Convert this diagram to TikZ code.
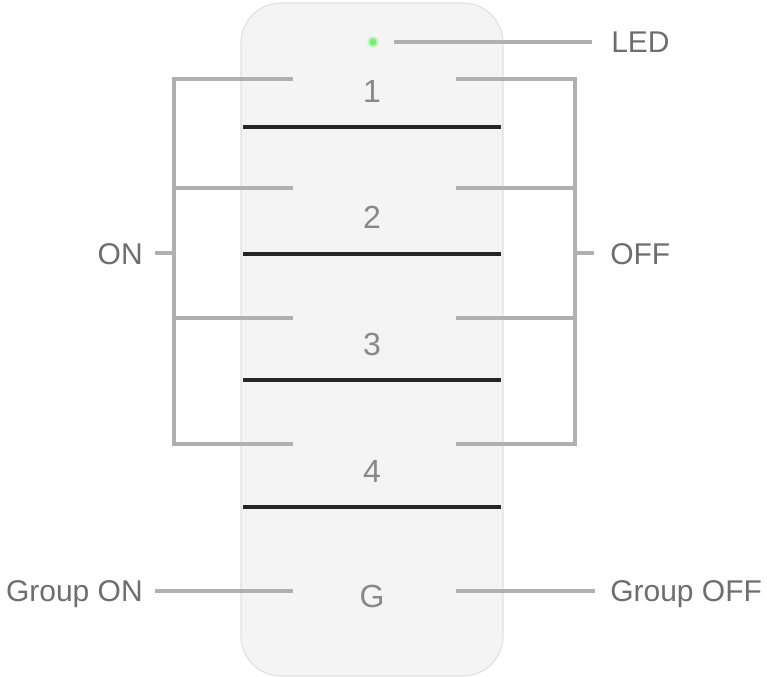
\documentclass[tikz,border=0pt]{standalone}
\usepackage{fontspec}
\setmainfont{Liberation Sans}
\usetikzlibrary{calc}

\definecolor{bodygray}{HTML}{F4F4F4}
\definecolor{edgegray}{HTML}{E0E0E0}
\definecolor{leadgray}{HTML}{B0B0B0}
\definecolor{labelgray}{HTML}{6E6E6E}
\definecolor{keygray}{HTML}{888888}
\definecolor{ledgreen}{HTML}{78EE78}

\begin{document}
\begin{tikzpicture}[x=0.75pt,y=-0.75pt,
    lbl/.style={text=labelgray,font=\fontsize{22.5}{27}\selectfont,inner sep=0pt,text depth=0pt},
    keylbl/.style={text=keygray,font=\fontsize{24}{28}\selectfont,inner sep=0pt},
    lead/.style={leadgray,line width=2.3pt},
    seam/.style={black!85,line width=2.4pt}]
  \useasboundingbox (0,0) rectangle (767,677);
  %\draw[very thin,lightgray] (0,0) grid[step=50] (767,677);

  % remote body
  \draw[edgegray,line width=0.8pt,fill=bodygray,rounded corners=30pt] (241,3) rectangle (503,676);
  \foreach \y in {127,254,380,507}
    \draw[seam] (243,\y) -- (501,\y);

  % led
  \node[circle,fill=ledgreen!50,minimum size=8.5pt,inner sep=0pt] (led) at (373,42) {};
  \fill[ledgreen] (led) circle (2.6pt);

  % keys
  \foreach \n/\t/\yb in {k1/1/103,k2/2/229,k3/3/355,k4/4/482,kg/G/607}
    \node[keylbl,anchor=base] (\n) at (372,\yb) {\t};

  % labels
  \node[lbl,anchor=base west] (ledlbl) at (611,53) {LED};
  \node[lbl,anchor=base east] (onlbl) at (143,264) {ON};
  \node[lbl,anchor=base west] (offlbl) at (610,264) {OFF};
  \node[lbl,anchor=base east] (gonlbl) at (143,601) {Group ON};
  \node[lbl,anchor=base west] (gofflbl) at (610,601) {Group OFF};

  % bracket ends
  \foreach \i/\y in {1/79,2/188,3/318,4/444}{
    \coordinate (on\i) at (293,\y);
    \coordinate (onb\i) at (174,\y);
    \coordinate (off\i) at (456,\y);
    \coordinate (offb\i) at (575,\y);
  }
  \coordinate (onm) at (174,253);
  \coordinate (offm) at (575,253);
  \coordinate (gl) at (293,591);
  \coordinate (gr) at (456,591);

  % leads
  \draw[lead,shorten <=11pt,shorten >=14pt] (led) -- (led -| ledlbl.west);
  \draw[lead] (on1) -- (onb1) -- (onb4) -- (on4);
  \draw[lead] (on2) -- (onb2);
  \draw[lead] (on3) -- (onb3);
  \draw[lead] (off1) -- (offb1) -- (offb4) -- (off4);
  \draw[lead] (off2) -- (offb2);
  \draw[lead] (off3) -- (offb3);
  \draw[lead,shorten >=9pt] (onm) -- (onm -| onlbl.east);
  \draw[lead,shorten >=12pt] (offm) -- (offm -| offlbl.west);
  \draw[lead,shorten >=9pt] (gl) -- (gl -| gonlbl.east);
  \draw[lead,shorten >=11pt] (gr) -- (gr -| gofflbl.west);
\end{tikzpicture}
\end{document}
